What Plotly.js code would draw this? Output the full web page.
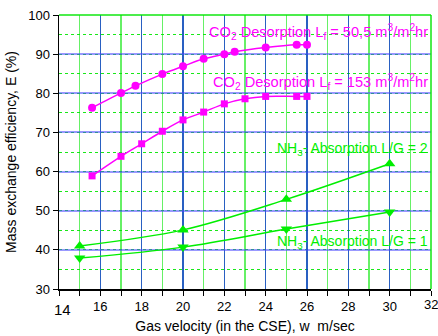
<!DOCTYPE html>
<html><head><meta charset="utf-8">
<script src="https://cdn.plot.ly/plotly-3.0.1.min.js"></script>
<style>html,body{margin:0;padding:0;background:#fff}#chart{width:438px;height:336px}</style>
</head><body><div id="chart"></div>
<script>
// CO2 desorption, Lf = 50.5 m3/m2hr (circles)
const co2HighX = [15.6, 17.0, 17.7, 19.0, 20.0, 21.0, 22.0, 22.5, 24.0, 25.5, 26.0];
const co2HighY = [76.3, 80.1, 81.9, 84.9, 86.9, 88.8, 90.0, 90.6, 91.7, 92.4, 92.4];
// CO2 desorption, Lf = 153 m3/m2hr (squares)
const co2LowX = [15.6, 17.0, 18.0, 19.0, 20.0, 21.0, 22.0, 23.0, 24.0, 25.5, 26.0];
const co2LowY = [58.9, 63.9, 67.1, 70.3, 73.2, 75.2, 77.3, 78.6, 79.2, 79.2, 79.2];
// NH3 absorption
const nh3X = [15, 20, 25, 30];
const nh3LG2 = [41.0, 45.1, 52.9, 62.0];
const nh3LG1 = [37.9, 40.7, 45.3, 49.7];
const xTickVals = [16, 18, 20, 22, 24, 26, 28, 30];
const yTickVals = [30, 40, 50, 60, 70, 80, 90, 100];

const mag = '#ff00ff', grn = '#00ee00';
const traces = [
  {x: co2HighX, y: co2HighY, mode: 'lines+markers', line: {color: mag, width: 1.5, shape: 'spline'}, marker: {symbol: 'circle', size: 8, color: mag}},
  {x: co2LowX, y: co2LowY, mode: 'lines+markers', line: {color: mag, width: 1.5, shape: 'spline'}, marker: {symbol: 'square', size: 7, color: mag}},
  {x: nh3X, y: nh3LG2, mode: 'lines+markers', line: {color: grn, width: 1.5, shape: 'spline'}, marker: {symbol: 'triangle-up', size: 10, color: grn}},
  {x: nh3X, y: nh3LG1, mode: 'lines+markers', line: {color: grn, width: 1.5, shape: 'spline'}, marker: {symbol: 'triangle-down', size: 10, color: grn}}
];
const font = {family: 'Liberation Sans, Arial, sans-serif', color: '#000'};
const layout = {
  width: 438, height: 336,
  margin: {l: 59, r: 7, t: 15, b: 47},
  paper_bgcolor: '#fff', plot_bgcolor: '#fff',
  showlegend: false,
  font: Object.assign({size: 13}, font),
  xaxis: {
    range: [14, 32], tickvals: xTickVals, ticks: 'outside', ticklen: 5, tickcolor: '#000',
    showline: true, linecolor: '#000', linewidth: 1.5, zeroline: false,
    showgrid: true, gridcolor: 'rgba(0,0,255,0.6)', gridwidth: 1.5,
    minor: {dtick: 1, tick0: 14, showgrid: true, gridcolor: 'rgba(0,230,0,0.6)', gridwidth: 1.5, ticks: 'outside', ticklen: 5, tickcolor: '#000'},
    tickfont: {size: 13},
    title: {text: 'Gas velocity (in the CSE), w  m/sec', font: {size: 14}, standoff: 8}
  },
  yaxis: {
    range: [30, 100], tickvals: yTickVals, ticks: 'outside', ticklen: 5, tickcolor: '#000',
    showline: true, linecolor: '#000', linewidth: 1.5, zeroline: false,
    showgrid: true, gridcolor: 'rgba(70,70,255,0.55)', gridwidth: 2,
    minor: {dtick: 5, tick0: 30, showgrid: true, gridcolor: 'rgba(0,230,0,0.9)', gridwidth: 1, griddash: 'dot'},
    tickfont: {size: 13},
    title: {text: 'Mass exchange efficiency, E (%)', font: {size: 14}, standoff: 8}
  },
  shapes: [
    {type: 'line', xref: 'paper', yref: 'paper', x0: 0, x1: 1, y0: 1, y1: 1, line: {color: 'rgba(0,230,0,0.7)', width: 2}},
    {type: 'line', xref: 'paper', yref: 'paper', x0: 1, x1: 1, y0: 0, y1: 1, line: {color: 'rgba(0,230,0,0.7)', width: 2}}
  ],
  annotations: [
    {x: 14, y: 0, xref: 'x', yref: 'paper', text: '14', showarrow: false, yanchor: 'top', yshift: -10, xshift: 3, font: {size: 15}},
    {x: 32, y: 0, xref: 'x', yref: 'paper', text: '32', showarrow: false, yanchor: 'top', yshift: -6, xshift: 0, font: {size: 13}},
    {x: 1, y: 95.6, xref: 'paper', yref: 'y', xanchor: 'right', showarrow: false, font: {size: 14.6, color: mag},
     text: 'CO<sub>2</sub> Desorption L<sub>f</sub> = 50,5 m<sup>3</sup>/m<sup>2</sup>hr', xshift: -1},
    {x: 1, y: 82.9, xref: 'paper', yref: 'y', xanchor: 'right', showarrow: false, font: {size: 14.6, color: mag},
     text: 'CO<sub>2</sub> Desorption L<sub>f</sub> = 153 m<sup>3</sup>/m<sup>2</sup>hr', xshift: -1},
    {x: 1, y: 65.7, xref: 'paper', yref: 'y', xanchor: 'right', showarrow: false, font: {size: 14, color: grn},
     text: 'NH<sub>3</sub>- Absorption L/G = 2', xshift: -1},
    {x: 1, y: 42.0, xref: 'paper', yref: 'y', xanchor: 'right', showarrow: false, font: {size: 14, color: grn},
     text: 'NH<sub>3</sub>- Absorption L/G = 1', xshift: -1}
  ]
};
Plotly.newPlot('chart', traces, layout, {displayModeBar: false, staticPlot: true});
</script></body></html>
